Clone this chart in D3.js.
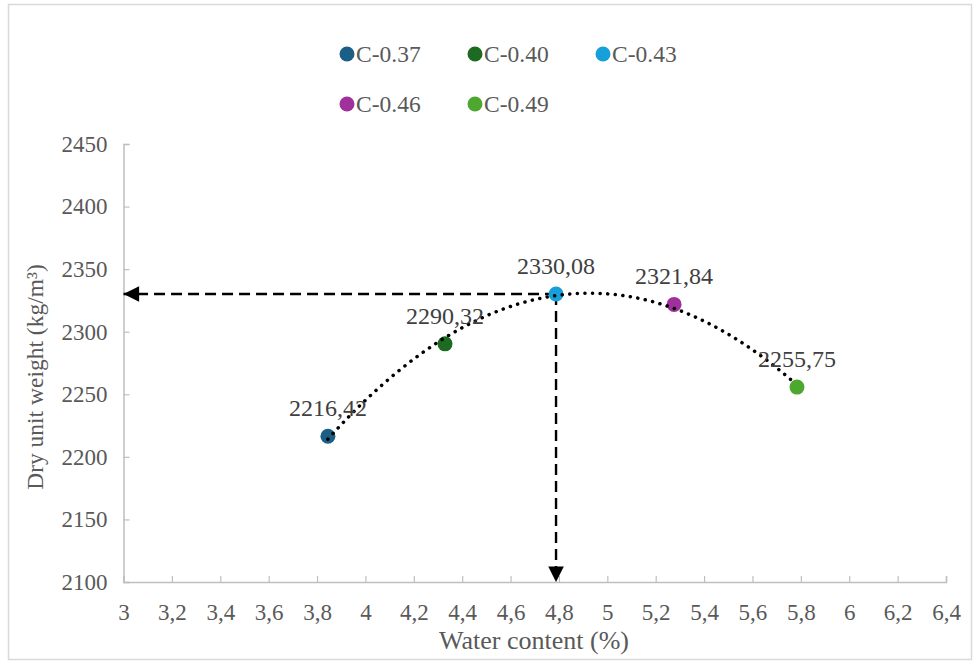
<!DOCTYPE html>
<html>
<head>
<meta charset="utf-8">
<script src="https://cdn.jsdelivr.net/npm/d3@7"></script>
<style>
  body { margin: 0; background: #fff; }
  svg text { font-family: "Times New Roman", "Liberation Serif", "DejaVu Serif", serif !important; }
</style>
</head>
<body>
<script>
// series (one point each)
var seriesNames = ["C-0.37", "C-0.40", "C-0.43", "C-0.46", "C-0.49"];
var waterContent = [3.845, 4.329, 4.788, 5.276, 5.784];
var dryWeight = [2216.42, 2290.32, 2330.08, 2321.84, 2255.75];
var seriesColors = ["#1b5e86", "#1d6b22", "#16a0d9", "#a0309b", "#4ea72e"];
var xTicks = [3, 3.2, 3.4, 3.6, 3.8, 4, 4.2, 4.4, 4.6, 4.8, 5, 5.2, 5.4, 5.6, 5.8, 6, 6.2, 6.4];
var yTicks = [2100, 2150, 2200, 2250, 2300, 2350, 2400, 2450];
// optimum marked by the arrows
var optimum = {x: 4.788, y: 2330.08};

drawChart();

function drawChart() {
  var width = 979, height = 662;
  var plotLeft = 123.5, plotRight = 946, plotTop = 144, plotBottom = 582;

  var svg = d3.select("body").append("svg")
      .attr("width", width)
      .attr("height", height);

  // outer frame
  svg.append("rect")
      .attr("x", 8.5).attr("y", 4.5)
      .attr("width", 963).attr("height", 655)
      .attr("fill", "#fff")
      .attr("stroke", "#d9d9d9")
      .attr("stroke-width", 1.5);

  var x = d3.scaleLinear().domain([3, 6.4]).range([plotLeft, plotRight]);
  var y = d3.scaleLinear().domain([2100, 2450]).range([plotBottom, plotTop]);

  var comma = function(v, digits) {
    return (digits == null ? String(v) : v.toFixed(digits)).replace(".", ",");
  };

  // axes
  var xAxis = svg.append("g")
      .attr("transform", "translate(0," + plotBottom + ")")
      .call(d3.axisBottom(x).tickValues(xTicks).tickSize(-6)
        .tickFormat(function(d) { return comma(+d.toFixed(1)); }).tickPadding(22));
  var yAxis = svg.append("g")
      .attr("transform", "translate(" + plotLeft + ",0)")
      .call(d3.axisLeft(y).tickValues(yTicks).tickSize(-6)
        .tickFormat(d3.format("d")).tickPadding(16));

  [xAxis, yAxis].forEach(function(a) {
    a.attr("font-family", null);
    a.select(".domain").attr("stroke", "#bfbfbf").attr("stroke-width", 1.5);
    a.selectAll(".tick line").attr("stroke", "#bfbfbf").attr("stroke-width", 1.2);
    a.selectAll(".tick text")
        .attr("fill", "#595959")
        .style("font-size", "23px");
  });

  // axis titles
  svg.append("text")
      .attr("x", 534).attr("y", 649)
      .attr("text-anchor", "middle")
      .attr("fill", "#595959")
      .style("font-size", "26px")
      .text("Water content (%)");
  svg.append("text")
      .attr("transform", "translate(43," + ((plotTop + plotBottom) / 2 + 14) + ") rotate(-90)")
      .attr("text-anchor", "middle")
      .attr("fill", "#595959")
      .style("font-size", "23.5px")
      .text("Dry unit weight (kg/m³)");

  // polynomial trendline (least squares, order 2)
  function polyFit(xs, ys, order) {
    var n = order + 1, A = [], b = [];
    for (var i = 0; i < n; i++) {
      A.push([]);
      for (var j = 0; j < n; j++) A[i].push(d3.sum(xs, function(v) { return Math.pow(v, i + j); }));
      b.push(d3.sum(xs, function(v, k) { return ys[k] * Math.pow(v, i); }));
    }
    for (var c = 0; c < n; c++) {
      for (var r = c + 1; r < n; r++) {
        var f = A[r][c] / A[c][c];
        for (var k = c; k < n; k++) A[r][k] -= f * A[c][k];
        b[r] -= f * b[c];
      }
    }
    var coef = new Array(n);
    for (var r2 = n - 1; r2 >= 0; r2--) {
      var s = b[r2];
      for (var k2 = r2 + 1; k2 < n; k2++) s -= A[r2][k2] * coef[k2];
      coef[r2] = s / A[r2][r2];
    }
    return function(v) { return d3.sum(coef, function(cf, p) { return cf * Math.pow(v, p); }); };
  }
  var trend = polyFit(waterContent, dryWeight, 2);
  var tx = d3.range(waterContent[0], waterContent[4] + 0.001, 0.01);
  var trendLine = d3.line().x(function(d) { return x(d); }).y(function(d) { return y(trend(d)); });

  // dashed arrows to the optimum
  svg.append("defs").append("marker")
      .attr("id", "head")
      .attr("viewBox", "0 0 10 10")
      .attr("refX", 10).attr("refY", 5)
      .attr("markerWidth", 7).attr("markerHeight", 6.5)
      .attr("markerUnits", "strokeWidth")
      .attr("orient", "auto")
    .append("path")
      .attr("d", "M0,0L10,5L0,10Z")
      .attr("fill", "#000");

  var arrows = [
    [[optimum.x, optimum.y], [3, optimum.y]],
    [[optimum.x, optimum.y], [optimum.x, 2100]]
  ];
  svg.selectAll(".arrow")
      .data(arrows)
      .enter().append("line")
      .attr("class", "arrow")
      .attr("x1", function(d) { return x(d[0][0]); })
      .attr("y1", function(d) { return y(d[0][1]); })
      .attr("x2", function(d) { return x(d[1][0]); })
      .attr("y2", function(d) { return y(d[1][1]); })
      .attr("stroke", "#000")
      .attr("stroke-width", 2.4)
      .attr("stroke-dasharray", "11 6")
      .attr("marker-end", "url(#head)");

  // points
  var pts = d3.range(seriesNames.length);
  svg.selectAll(".pt")
      .data(pts)
      .enter().append("circle")
      .attr("class", "pt")
      .attr("cx", function(i) { return x(waterContent[i]); })
      .attr("cy", function(i) { return y(dryWeight[i]); })
      .attr("r", 7.5)
      .attr("fill", function(i) { return seriesColors[i]; });

  // trend dots drawn over the markers
  svg.append("path")
      .datum(tx)
      .attr("d", trendLine)
      .attr("fill", "none")
      .attr("stroke", "#000")
      .attr("stroke-width", 3.5)
      .attr("stroke-linecap", "round")
      .attr("stroke-dasharray", "0.1 7.5");

  // data labels
  svg.selectAll(".lbl")
      .data(pts)
      .enter().append("text")
      .attr("class", "lbl")
      .attr("x", function(i) { return x(waterContent[i]); })
      .attr("y", function(i) { return y(dryWeight[i]) - 20; })
      .attr("text-anchor", "middle")
      .attr("fill", "#404040")
      .style("font-size", "24px")
      .text(function(i) { return comma(dryWeight[i], 2); });

  // legend
  var legend = svg.selectAll(".leg")
      .data(pts)
      .enter().append("g")
      .attr("class", "leg")
      .attr("transform", function(i) {
        return "translate(" + (347 + (i % 3) * 128) + "," + (54 + Math.floor(i / 3) * 50) + ")";
      });
  legend.append("circle")
      .attr("r", 7.5)
      .attr("fill", function(i) { return seriesColors[i]; });
  legend.append("text")
      .attr("x", 9).attr("y", 8)
      .attr("fill", "#595959")
      .style("font-size", "23.5px")
      .text(function(i) { return seriesNames[i]; });
}
</script>
</body>
</html>
